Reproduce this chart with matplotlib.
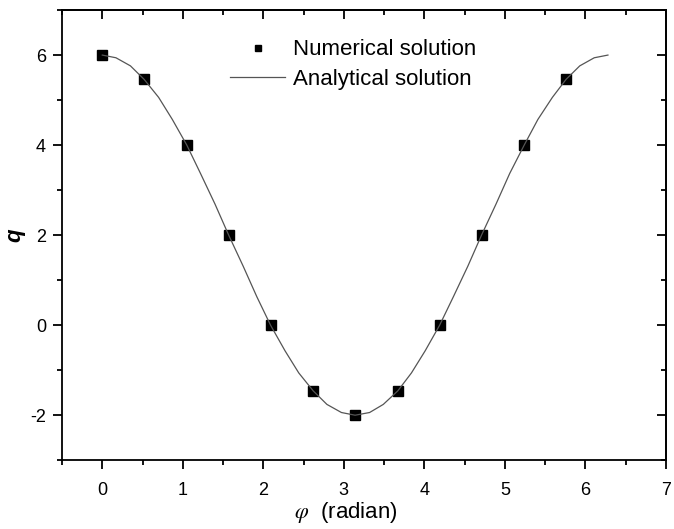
import matplotlib
matplotlib.use('Agg')
import matplotlib.pyplot as plt
from matplotlib.ticker import MultipleLocator

plt.rcParams['font.family'] = ['Liberation Sans', 'DejaVu Sans']
plt.rcParams['mathtext.fontset'] = 'stix'
plt.rcParams['axes.unicode_minus'] = False

# numerical solution, sampled every pi/6
phi_num = [0.00, 0.52, 1.05, 1.57, 2.09, 2.62, 3.14, 3.67, 4.19, 4.71, 5.24, 5.76]
q_num = [6.00, 5.46, 4.00, 2.00, 0.00, -1.46, -2.00, -1.46, 0.00, 2.00, 4.00, 5.46]

# analytical solution, every 10 degrees
phi_ana = [0.00, 0.17, 0.35, 0.52, 0.70, 0.87, 1.05, 1.22, 1.40, 1.57, 1.75, 1.92,
           2.09, 2.27, 2.44, 2.62, 2.79, 2.97, 3.14, 3.32, 3.49, 3.67, 3.84, 4.01,
           4.19, 4.36, 4.54, 4.71, 4.89, 5.06, 5.24, 5.41, 5.59, 5.76, 5.93, 6.11, 6.28]
q_ana = [6.00, 5.94, 5.76, 5.46, 5.06, 4.57, 4.00, 3.37, 2.69, 2.00, 1.31, 0.63,
         0.00, -0.57, -1.06, -1.46, -1.76, -1.94, -2.00, -1.94, -1.76, -1.46, -1.06, -0.57,
         0.00, 0.63, 1.31, 2.00, 2.69, 3.37, 4.00, 4.57, 5.06, 5.46, 5.76, 5.94, 6.00]

fig = plt.figure(figsize=(6.74, 5.29), dpi=100)
ax = fig.add_axes([0.092, 0.130, 0.896, 0.851])

ax.plot(phi_num, q_num, 's', color='black', markersize=6.5, linestyle='none',
        label='Numerical solution')
ax.plot(phi_ana, q_ana, '-', color='#555555', linewidth=0.9,
        label='Analytical solution')

ax.set_xlim(-0.5, 7)
ax.set_ylim(-3, 7)
ax.xaxis.set_major_locator(MultipleLocator(1))
ax.xaxis.set_minor_locator(MultipleLocator(0.5))
ax.yaxis.set_major_locator(MultipleLocator(2))
ax.yaxis.set_minor_locator(MultipleLocator(1))

for s in ax.spines.values():
    s.set_linewidth(1.3)

# bottom/left ticks outward, mirrored ticks on top/right point inward
ax.tick_params(which='both', direction='out', width=1.3, labelsize=13)
ax.tick_params(axis='x', pad=9)
ax.tick_params(axis='y', pad=5)
ax.tick_params(which='major', length=6.5)
ax.tick_params(which='minor', length=3.5)
ax.tick_params(which='both', top=False, right=False)
axt = ax.secondary_xaxis('top')
axt.xaxis.set_major_locator(MultipleLocator(1))
axt.xaxis.set_minor_locator(MultipleLocator(0.5))
axt.tick_params(which='both', direction='in', width=1.3, labeltop=False)
axt.tick_params(which='major', length=6.5)
axt.tick_params(which='minor', length=3.5)
axt.spines['top'].set_linewidth(1.3)
axr = ax.secondary_yaxis('right')
axr.yaxis.set_major_locator(MultipleLocator(2))
axr.yaxis.set_minor_locator(MultipleLocator(1))
axr.tick_params(which='both', direction='in', width=1.3, labelright=False)
axr.tick_params(which='major', length=6.5)
axr.tick_params(which='minor', length=3.5)
axr.spines['right'].set_linewidth(1.3)

ax.set_xlabel(r'$\varphi$  (radian)', fontsize=16)
ax.xaxis.set_label_coords(0.47, -0.088)
ax.set_ylabel('q', fontsize=16, fontweight='bold', fontstyle='italic')
ax.yaxis.set_label_coords(-0.06, 0.5)

ax.legend(loc='upper left', bbox_to_anchor=(0.278, 0.935), frameon=False,
          fontsize=16, handlelength=2.5, handletextpad=0.36, labelspacing=0.38,
          borderpad=0, borderaxespad=0, markerscale=0.7)

fig.savefig('out.png', dpi=100)
